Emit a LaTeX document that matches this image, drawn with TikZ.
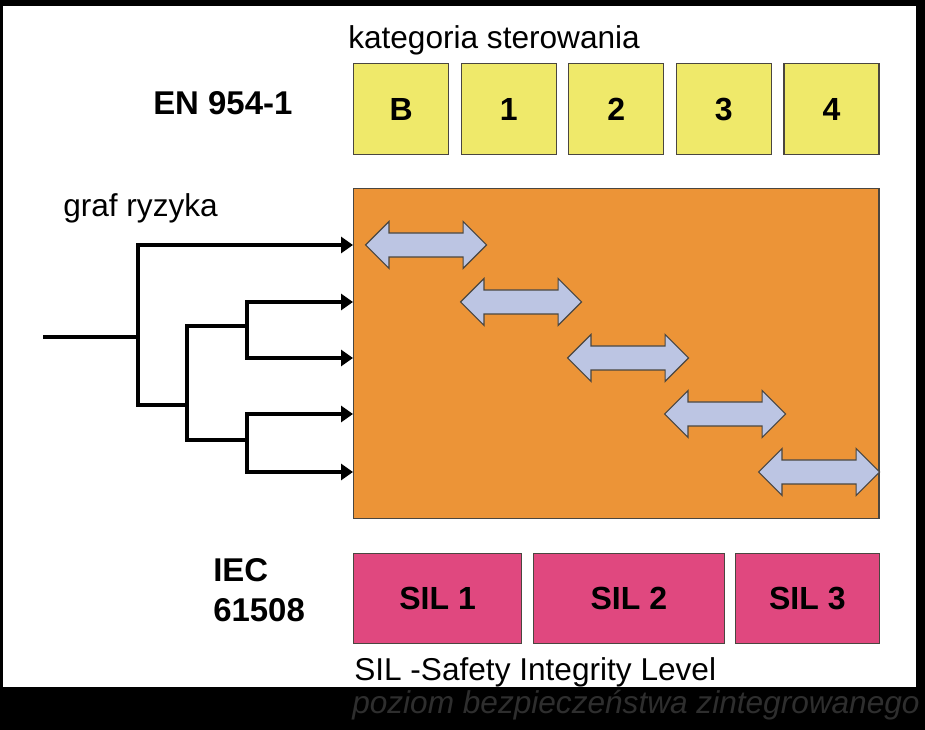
\documentclass[tikz,border=0pt]{standalone}
\usepackage{fontspec}
\setmainfont{Liberation Sans}
\usetikzlibrary{positioning,arrows.meta,shapes.arrows}
\definecolor{catyellow}{HTML}{EFE96A}
\definecolor{graforange}{HTML}{EC9437}
\definecolor{silpink}{HTML}{E0487F}
\definecolor{spanblue}{HTML}{BCC5E3}
\definecolor{edgegray}{HTML}{4A4640}
\definecolor{notegray}{HTML}{2E2E2E}

\begin{document}
\begin{tikzpicture}[x=0.75pt, y=-0.75pt,
  catbox/.style={draw=edgegray, line width=0.9pt, fill=catyellow,
    minimum width=71.2pt, minimum height=68.25pt,
    font=\fontsize{24}{28}\selectfont\bfseries},
  silbox/.style={draw=edgegray, line width=0.9pt, fill=silpink,
    minimum height=67.5pt, font=\fontsize{24}{28}\selectfont\bfseries},
  spanarrow/.style={double arrow, draw=edgegray, line width=0.8pt,
    fill=spanblue, minimum height=90.75pt, inner xsep=0pt,
    inner ysep=8.6pt, double arrow head extend=8.6pt},
  treeline/.style={line width=3pt},
  treearrow/.style={treeline, -{Triangle[length=9pt,width=12pt]}},
  caption/.style={font=\fontsize{23.7}{28}\selectfont, inner sep=0pt},
  standard/.style={font=\fontsize{24.7}{30}\selectfont\bfseries,
    inner sep=0pt, align=left},
  node distance=8.6pt
]
\useasboundingbox (0,0) rectangle (925,730);
\fill[black] (0,0) rectangle (925,730);
\fill[white] (3,6) rectangle (916,687);

\node[caption, anchor=base west] (cattitle) at (348,49) {kategoria sterowania};
\node[standard, anchor=base west] (en) at (153,115) {EN 954-1};
\node[catbox, anchor=north west] (catB) at (353,63) {B};
\node[catbox, right=of catB] (cat1) {1};
\node[catbox, right=of cat1] (cat2) {2};
\node[catbox, right=of cat2] (cat3) {3};
\node[catbox, right=of cat3] (cat4) {4};

\node[caption, anchor=base west] (graftitle) at (63,217) {graf ryzyka};
\node[draw=edgegray, line width=0.9pt, fill=graforange, anchor=north west,
  minimum width=394pt, minimum height=247.5pt] (graph) at (353,188) {};
\foreach \n/\x/\y in {1/426/245, 2/521/302, 3/628/358, 4/725/414, 5/819/472}
  \node[spanarrow] (span\n) at (\x,\y) {};

\coordinate (root) at (43,337);
\coordinate (fork0) at (138,337);
\coordinate (fork1) at (187,405);
\coordinate (fork2) at (247,326);
\coordinate (fork3) at (247,440);
\draw[treeline] (root) -- (fork0);
\draw[treeline] (fork0) |- (fork1);
\draw[treeline] (fork1) |- (fork2);
\draw[treeline] (fork1) |- (fork3);
\draw[treearrow] (fork0) |- (graph.west |- span1.west);
\draw[treearrow] (fork2) |- (graph.west |- span2.west);
\draw[treearrow] (fork2) |- (graph.west |- span3.west);
\draw[treearrow] (fork3) |- (graph.west |- span4.west);
\draw[treearrow] (fork3) |- (graph.west |- span5.west);

\node[standard, anchor=base west] (iec) at (213,622) {IEC\\61508};
\node[silbox, minimum width=126pt, anchor=north west] (sil1) at (353,553) {SIL 1};
\node[silbox, minimum width=143.5pt, right=7.8pt of sil1] (sil2) {SIL 2};
\node[silbox, minimum width=108pt, right=7.2pt of sil2] (sil3) {SIL 3};
\node[caption, anchor=base west] (silnote) at (354,680) {SIL -Safety Integrity Level};
\node[caption, anchor=base west, text=notegray, font=\fontsize{23.7}{28}\selectfont\itshape]
  (silpl) at (352,713) {poziom bezpieczeństwa zintegrowanego};
\end{tikzpicture}
\end{document}
